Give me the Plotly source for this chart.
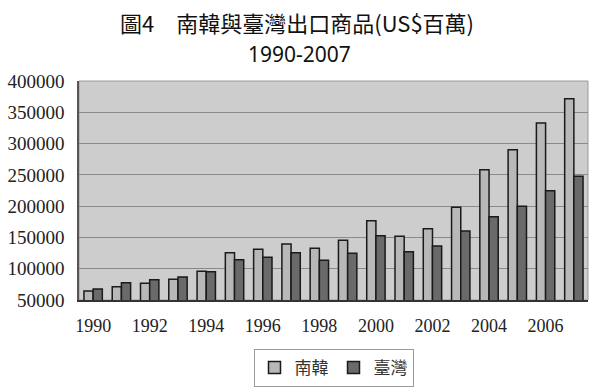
import plotly.graph_objects as go

years = list(range(1990, 2008))
korea = [64400, 71300, 76700, 83000, 95800, 125600, 131000, 139500, 132600,
         145400, 176800, 151800, 164000, 198100, 258300, 290200, 332800, 371700]
taiwan = [67600, 77600, 82500, 86800, 95300, 114400, 118200, 125600, 113400,
          124600, 152800, 127200, 136300, 160200, 183100, 199700, 224700, 247600]
x_label_years = [y for y in years if y % 2 == 0]
x_boundaries = [y - 0.5 for y in years] + [years[-1] + 0.5]
y_ticks = [50000, 100000, 150000, 200000, 250000, 300000, 350000, 400000]
y_tick_text = [str(v) for v in y_ticks]

fig = go.Figure()
fig.add_trace(go.Bar(x=years, y=korea, name="南韓",
                     marker=dict(color="#b8b8b8", line=dict(color="#1a1a1a", width=1.5))))
fig.add_trace(go.Bar(x=years, y=taiwan, name="臺灣",
                     marker=dict(color="#6a6a6a", line=dict(color="#1a1a1a", width=1.5))))

L, R, T, B = 79, 12, 81, 90
W, H = 600, 390
pw = W - L - R

fig.update_layout(
    width=W, height=H,
    margin=dict(l=L, r=R, t=T, b=B, autoexpand=False),
    paper_bgcolor="white", plot_bgcolor="#cdcdcd",
    barmode="group", bargap=0.35, bargroupgap=0,
    showlegend=True,
    legend=dict(orientation="h", x=0.5, xanchor="center",
                yref="container", y=1 - 349 / H, yanchor="top",
                bordercolor="#999999", borderwidth=1,
                font=dict(family="Noto Sans CJK TC", size=17, color="#333333"),
                itemwidth=30, traceorder="normal", tracegroupgap=0),
    xaxis2=dict(overlaying="x", side="bottom", anchor="y", range=[1989.5, 2007.5],
                tickmode="array", tickvals=x_boundaries, ticks="outside", ticklen=6,
                tickwidth=1, tickcolor="#444444", showticklabels=False,
                showgrid=False, zeroline=False, showline=False),
)
fig.add_annotation(text="圖4　南韓與臺灣出口商品(US$百萬)", xref="paper", yref="paper",
                   x=(297 - L) / pw, y=1.0, yshift=T - 22, xanchor="center", yanchor="middle",
                   showarrow=False,
                   font=dict(family="Noto Sans CJK TC", size=22, color="#111111"))
fig.add_annotation(text="1990-2007", xref="paper", yref="paper",
                   x=(299 - L) / pw, y=1.0, yshift=T - 54, xanchor="center", yanchor="middle",
                   showarrow=False,
                   font=dict(family="Noto Sans", size=21, color="#111111"))

fig.update_xaxes(selector=dict(), overwrite=False)
fig.layout.xaxis.update(range=[1989.5, 2007.5], tickmode="array", tickvals=x_label_years,
                        ticktext=[str(y) for y in x_label_years], ticks="", tickangle=0,
                        ticklabelstandoff=9,
                        showline=True, linecolor="#333333", linewidth=1.5,
                        tickfont=dict(family="Liberation Serif", size=18, color="#222222"),
                        showgrid=False, zeroline=False)
fig.update_yaxes(range=[50000, 400000], tickmode="array", tickvals=y_ticks,
                 ticktext=y_tick_text, ticks="", showline=True, ticklabelstandoff=9,
                 linecolor="#555555", linewidth=1.5,
                 gridcolor="#8a8a8a", gridwidth=1, zeroline=False,
                 tickfont=dict(family="Liberation Serif", size=19, color="#222222"))
fig.add_shape(type="rect", xref="paper", yref="paper", x0=0, x1=1, y0=0, y1=1,
              line=dict(color="#9a9a9a", width=1), layer="below")

fig.write_html("out.html", config={"displayModeBar": False},
               post_script="document.body.style.margin='0';")
